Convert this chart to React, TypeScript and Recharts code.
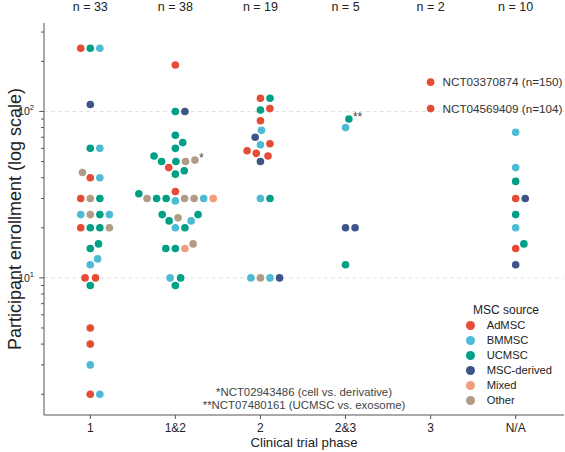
import React from 'react'
import { ScatterChart, Scatter, XAxis, YAxis, ReferenceLine, Legend, Customized } from 'recharts'

// ---- data ----
const phases = ['1', '1&2', '2', '2&3', '3', 'N/A']
const trialCounts = [33, 38, 19, 5, 2, 10]
const sources = ['AdMSC', 'BMMSC', 'UCMSC', 'MSC-derived', 'Mixed', 'Other']

// [participants, MSC source, note]; equal values keep their listed order in the swarm
type Trial = [number, string, string?]

const phase1: Trial[] = [
  [2, 'AdMSC'], [2, 'BMMSC'], [3, 'BMMSC'], [4, 'AdMSC'], [5, 'AdMSC'],
  [9, 'UCMSC'], [10, 'AdMSC'], [10, 'AdMSC'], [12, 'BMMSC'], [13, 'BMMSC'],
  [15, 'UCMSC'], [16, 'UCMSC'],
  [20, 'UCMSC'], [20, 'UCMSC'], [20, 'AdMSC'], [20, 'Other'],
  [24, 'Other'], [24, 'UCMSC'], [24, 'BMMSC'], [24, 'BMMSC'],
  [30, 'Other'], [30, 'UCMSC'], [30, 'AdMSC'],
  [40, 'AdMSC'], [40, 'BMMSC'], [43, 'Other'],
  [60, 'UCMSC'], [60, 'BMMSC'], [110, 'MSC-derived'],
  [240, 'UCMSC'], [240, 'BMMSC'], [240, 'AdMSC'],
]
const phase12: Trial[] = [
  [9, 'UCMSC'], [10, 'UCMSC'], [10, 'BMMSC'],
  [15, 'UCMSC'], [15, 'Mixed'], [15, 'UCMSC'], [16, 'Other'],
  [20, 'BMMSC'], [20, 'UCMSC'], [22, 'UCMSC'], [22, 'BMMSC'], [23, 'Other'],
  [24, 'UCMSC'], [24, 'UCMSC'], [29, 'BMMSC'],
  [30, 'Other'], [30, 'UCMSC'], [30, 'Other'], [30, 'UCMSC'], [30, 'BMMSC'], [30, 'Other'], [30, 'Mixed'],
  [32, 'UCMSC'], [33, 'AdMSC'], [42, 'UCMSC'], [44, 'UCMSC'], [46, 'AdMSC'],
  [50, 'UCMSC'], [50, 'Other'], [50, 'UCMSC'], [51, 'Other', '*'],
  [54, 'UCMSC'], [60, 'UCMSC'], [65, 'UCMSC'], [72, 'UCMSC'],
  [100, 'UCMSC'], [100, 'MSC-derived'], [190, 'AdMSC'],
]
const phase2: Trial[] = [
  [10, 'Other'], [10, 'BMMSC'], [10, 'BMMSC'], [10, 'MSC-derived'],
  [30, 'BMMSC'], [30, 'UCMSC'],
  [50, 'MSC-derived'], [54, 'AdMSC'], [56, 'AdMSC'], [58, 'AdMSC'], [63, 'BMMSC'], [64, 'AdMSC'],
  [70, 'MSC-derived'], [77, 'BMMSC'], [88, 'AdMSC'], [102, 'UCMSC'], [104, 'AdMSC'],
  [120, 'AdMSC'], [120, 'UCMSC'],
]
const phase23: Trial[] = [
  [12, 'UCMSC'], [20, 'MSC-derived'], [20, 'MSC-derived'], [80, 'BMMSC'], [90, 'UCMSC', '**'],
]
const phase3: Trial[] = [
  [104, 'AdMSC', 'NCT04569409'], [150, 'AdMSC', 'NCT03370874'],
]
const phaseNA: Trial[] = [
  [12, 'MSC-derived'], [15, 'AdMSC'], [16, 'UCMSC'], [20, 'BMMSC'], [24, 'UCMSC'],
  [30, 'AdMSC'], [30, 'MSC-derived'], [38, 'UCMSC'], [46, 'BMMSC'], [75, 'BMMSC'],
]
const trialsByPhase = [phase1, phase12, phase2, phase23, phase3, phaseNA]

const majorTicks = [10, 100]
const minorTicks = [2, 3, 4, 5, 6, 7, 8, 9, 20, 30, 40, 50, 60, 70, 80, 90, 200, 300]
const footnotes = ['*NCT02943486 (cell vs. derivative)', '**NCT07480161 (UCMSC vs. exosome)']

// ---- styling / layout ----
const sourceColors: Record<string, string> = {
  AdMSC: '#E64B35',
  BMMSC: '#4DBBD5',
  UCMSC: '#00A087',
  'MSC-derived': '#3C5488',
  Mixed: '#F39B7F',
  Other: '#B09C85',
}
const FONT = '"Liberation Sans", Arial, sans-serif'
const W = 565
const H = 452
const LEFT = 44
const TOP = 23
const BOTTOM = 37
const RIGHT = 1
const X_DOMAIN: [number, number] = [-0.544, 5.568]
const Y_DOMAIN: [number, number] = [1.5, 340]
const AXIS = '#555'
const DOT_R = 3.8
const SWARM_D = 9.1

const plotW = W - LEFT - RIGHT
const plotH = H - TOP - BOTTOM
const pxPerUnit = plotW / (X_DOMAIN[1] - X_DOMAIN[0])
const pxPerDecade = plotH / Math.log10(Y_DOMAIN[1] / Y_DOMAIN[0])

// simple beeswarm: lowest values first, each point goes to the free spot closest to the centre
function swarmOffsets(values: number[]): number[] {
  const order = values.map((_, i) => i).sort((a, b) => values[a] - values[b])
  const placed: { x: number; y: number }[] = []
  const out = new Array(values.length).fill(0)
  for (const i of order) {
    const y = -Math.log10(values[i]) * pxPerDecade
    const near = placed.filter(p => Math.abs(p.y - y) < SWARM_D)
    const cands = [0]
    near.forEach(p => {
      const dx = Math.sqrt(SWARM_D * SWARM_D - (p.y - y) ** 2) * 1.05
      cands.push(p.x + dx, p.x - dx)
    })
    cands.sort((a, b) => {
      const d = Math.abs(a) - Math.abs(b)
      return Math.abs(d) > 1e-6 ? d : b - a
    })
    const x = cands.find(c => near.every(p => (c - p.x) ** 2 + (y - p.y) ** 2 >= SWARM_D * SWARM_D - 1e-6)) ?? 0
    placed.push({ x, y })
    out[i] = x
  }
  return out
}

const points = trialsByPhase.flatMap((trials, phaseIdx) => {
  const offs = swarmOffsets(trials.map(t => t[0]))
  return trials.map((t, k) => ({ x: phaseIdx + offs[k] / pxPerUnit, y: t[0], source: t[1], note: t[2] }))
})
const pointsBySource = sources.map(s => points.filter(p => p.source === s))

const TrialDot = (props: any) => {
  const { cx, cy, fill, payload } = props
  const note: string | undefined = payload?.note
  return (
    <g>
      <circle cx={cx} cy={cy} r={DOT_R} fill={fill} />
      {note && note.startsWith('NCT') && (
        <text x={cx + 12} y={cy + 4.1} fontSize={11.7} fill="#333" fontFamily={FONT}>
          {`${note} (n=${payload.y})`}
        </text>
      )}
      {note && note.startsWith('*') && (
        <text x={cx + 4} y={cy + 1.5} fontSize={12} fill="#444" fontFamily={FONT}>{note}</text>
      )}
    </g>
  )
}

// bottom tick: phase name under the axis, trial count above the plot
const PhaseTick = (props: any) => {
  const { x, y, payload } = props
  const i = payload.value
  return (
    <g fontFamily={FONT} fill="#222" textAnchor="middle">
      <text x={x} y={y + 8.6} fontSize={12}>{phases[i]}</text>
      <text x={x} y={11} fontSize={12.5}>{`n = ${trialCounts[i]}`}</text>
    </g>
  )
}

const LogTick = (props: any) => {
  const { y, payload } = props
  const v = payload.value
  const major = majorTicks.includes(v)
  return (
    <g>
      <line x1={LEFT} x2={LEFT - (major ? 4.7 : 3)} y1={y} y2={y} stroke={AXIS} strokeWidth={1} />
      {major && (
        <text x={LEFT - 10} y={y + 3.8} textAnchor="end" fontSize={10.5} fill="#222" fontFamily={FONT}>
          10<tspan dy={-5} fontSize={7.5}>{Math.round(Math.log10(v))}</tspan>
        </text>
      )}
    </g>
  )
}

const SourceLegend = () => (
  <div style={{ position: 'relative', width: 100, height: 110, fontFamily: FONT, color: '#222' }}>
    <div style={{ position: 'absolute', left: 0, top: 3, width: 92, textAlign: 'center', fontSize: 12, lineHeight: '14px' }}>
      MSC source
    </div>
    {sources.map((s, i) => (
      <div key={s} style={{ position: 'absolute', left: 0, top: 18 + 15 * i, height: 15, width: 100 }}>
        <span style={{ position: 'absolute', left: 6, top: 3, width: 9, height: 9, borderRadius: '50%', background: sourceColors[s] }} />
        <span style={{ position: 'absolute', left: 26.7, top: 0, fontSize: 11.2, lineHeight: '15px', whiteSpace: 'nowrap' }}>{s}</span>
      </div>
    ))}
  </div>
)

const Titles = () => (
  <g fontFamily={FONT} fill="#222">
    <text transform={`translate(21, ${TOP + plotH / 2}) rotate(-90)`} textAnchor="middle" fontSize={18}>
      Participant enrollment (log scale)
    </text>
    <text x={LEFT + plotW / 2} y={447} textAnchor="middle" fontSize={13.2}>Clinical trial phase</text>
    {footnotes.map((f, i) => (
      <text key={f} x={LEFT + plotW / 2} y={395.5 + 13 * i} textAnchor="middle" fontSize={11.4} fill="#444">{f}</text>
    ))}
  </g>
)

export default function App() {
  const phaseTicks = phases.map((_, i) => i)
  return (
    <div style={{ position: 'absolute', left: 0, top: 0, width: W, height: H, background: '#fff' }}>
      <ScatterChart width={W} height={H} margin={{ top: TOP, right: RIGHT, bottom: 0, left: 0 }} style={{ fontFamily: FONT }}>
        <XAxis
          xAxisId="b"
          type="number"
          dataKey="x"
          domain={X_DOMAIN}
          allowDataOverflow
          ticks={phaseTicks}
          interval={0}
          height={BOTTOM}
          tickSize={4}
          tickMargin={4}
          axisLine={{ stroke: AXIS }}
          tickLine={{ stroke: AXIS }}
          tick={<PhaseTick />}
        />
        <YAxis
          type="number"
          dataKey="y"
          scale="log"
          domain={Y_DOMAIN}
          allowDataOverflow
          ticks={[...minorTicks, ...majorTicks].sort((a, b) => a - b)}
          interval={0}
          width={LEFT}
          tickLine={false}
          axisLine={{ stroke: AXIS }}
          tick={<LogTick />}
        />
        {majorTicks.map(v => (
          <ReferenceLine key={v} xAxisId="b" y={v} stroke="#e2e2e2" strokeDasharray="4 3" />
        ))}
        {sources.map((s, i) => (
          <Scatter
            key={s}
            name={s}
            xAxisId="b"
            data={pointsBySource[i]}
            fill={sourceColors[s]}
            shape={TrialDot}
            isAnimationActive={false}
          />
        ))}
        <Legend
          layout="horizontal"
          verticalAlign="middle"
          align="center"
          content={<SourceLegend />}
          wrapperStyle={{ position: 'absolute', left: 460, top: 300, width: 100, height: 110 }}
        />
        <Customized component={Titles} />
      </ScatterChart>
    </div>
  )
}
